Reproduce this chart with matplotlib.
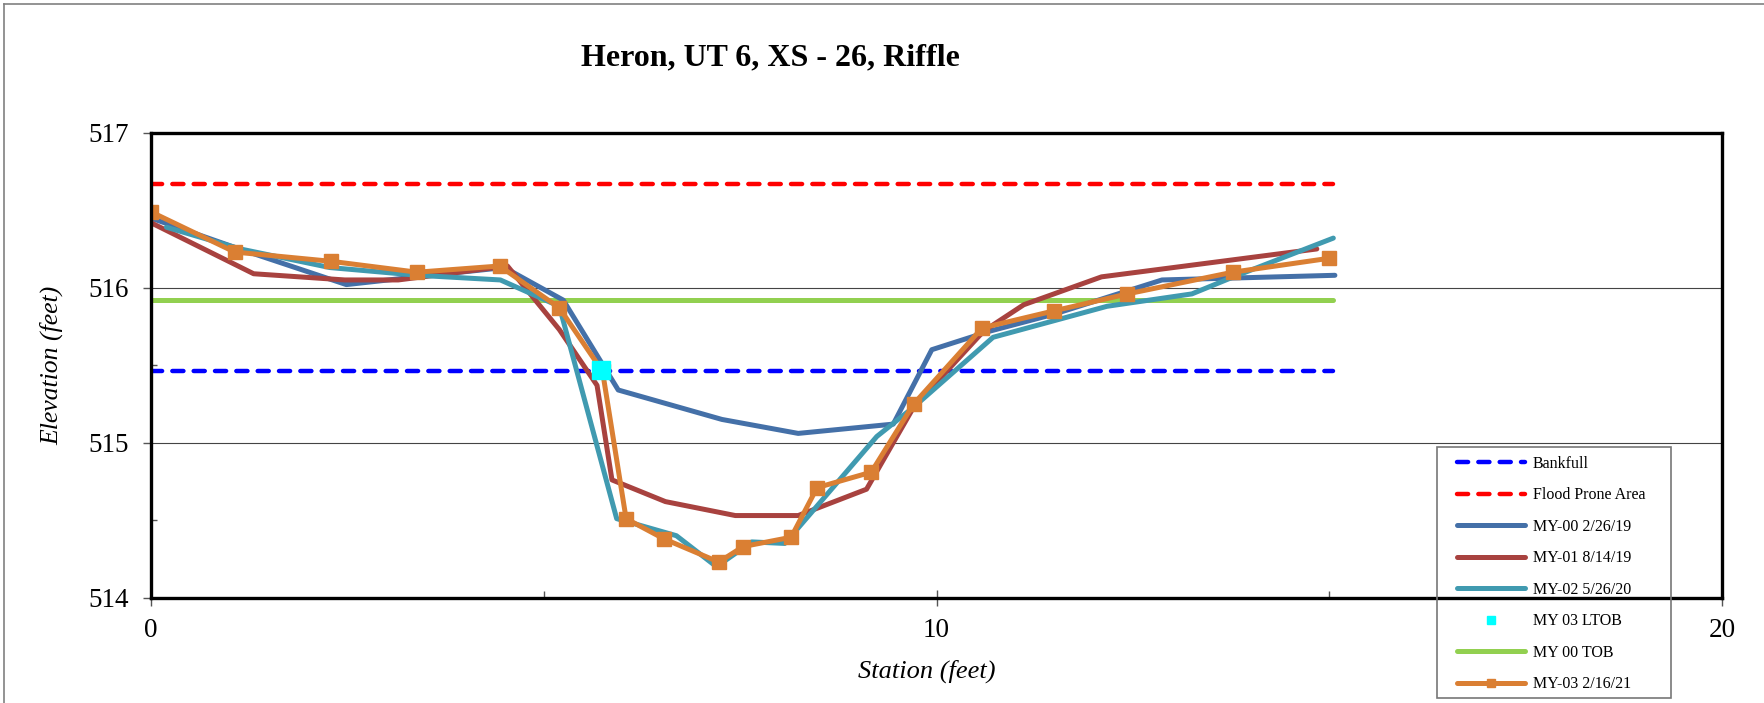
import matplotlib
matplotlib.use("Agg")
import matplotlib.pyplot as plt
from matplotlib.lines import Line2D
from matplotlib.patches import Rectangle
from matplotlib.ticker import MultipleLocator

plt.rcParams['font.family'] = ['Liberation Serif', 'DejaVu Serif']

# horizontal reference lines
ref_x = [0, 15.05]
bankfull_y = [515.46, 515.46]
flood_y = [516.67, 516.67]
tob_y = [515.92, 515.92]

# survey cross sections
my00_x = [0, 1.07, 2.49, 3.38, 4.50, 5.25, 5.95, 7.27, 8.24, 9.45, 9.94, 10.68, 11.50, 12.87, 15.07]
my00_y = [516.45, 516.26, 516.02, 516.07, 516.13, 515.92, 515.34, 515.15, 515.06, 515.12, 515.60, 515.72, 515.83, 516.05, 516.08]

my01_x = [0, 1.31, 2.47, 3.15, 4.54, 5.20, 5.68, 5.87, 6.55, 7.44, 8.24, 9.11, 9.71, 10.60, 11.11, 12.10, 14.84]
my01_y = [516.42, 516.09, 516.05, 516.05, 516.14, 515.73, 515.37, 514.76, 514.62, 514.53, 514.53, 514.70, 515.23, 515.72, 515.89, 516.07, 516.25]

my02_x = [0.2, 1.14, 2.28, 3.40, 4.45, 5.20, 5.93, 6.69, 7.20, 7.65, 8.07, 9.24, 9.71, 10.72, 12.17, 13.25, 13.78, 15.05]
my02_y = [516.39, 516.25, 516.13, 516.08, 516.05, 515.88, 514.51, 514.40, 514.20, 514.36, 514.35, 515.04, 515.23, 515.68, 515.88, 515.96, 516.07, 516.32]

my03_x = [0, 1.07, 2.30, 3.39, 4.44, 5.20, 5.75, 6.05, 6.53, 7.23, 7.54, 8.15, 8.48, 9.17, 9.71, 10.58, 11.49, 12.43, 13.77, 15.0]
my03_y = [516.49, 516.23, 516.17, 516.10, 516.14, 515.87, 515.46, 514.51, 514.38, 514.23, 514.33, 514.39, 514.71, 514.81, 515.25, 515.74, 515.85, 515.96, 516.10, 516.19]

ltob_x = [5.73]
ltob_y = [515.47]

W, H = 1764, 703
fig = plt.figure(figsize=(W / 100, H / 100), dpi=100)
ax = fig.add_axes([150.7 / W, 1 - 597.7 / H, (1722.3 - 150.7) / W, (597.7 - 132.7) / H])

dash = (2.5, 2.3)
h_bank, = ax.plot(ref_x, bankfull_y, color='#0000ff', lw=3.2, dashes=dash,
                  dash_capstyle='round', label='Bankfull', zorder=3)
h_flood, = ax.plot(ref_x, flood_y, color='#ff0000', lw=3.2, dashes=dash,
                   dash_capstyle='round', label='Flood Prone Area', zorder=3)
h00, = ax.plot(my00_x, my00_y, color='#4470a8', lw=3.6, solid_capstyle='round',
               solid_joinstyle='round', label='MY-00 2/26/19', zorder=4)
h01, = ax.plot(my01_x, my01_y, color='#a8423f', lw=3.6, solid_capstyle='round',
               solid_joinstyle='round', label='MY-01 8/14/19', zorder=5)
h02, = ax.plot(my02_x, my02_y, color='#409ab0', lw=3.6, solid_capstyle='round',
               solid_joinstyle='round', label='MY-02 5/26/20', zorder=6)
h_tob, = ax.plot(ref_x, tob_y, color='#92d050', lw=3.6, solid_capstyle='round',
                 label='MY 00 TOB', zorder=3.5)
h03, = ax.plot(my03_x, my03_y, color='#da7f33', lw=3.6, marker='s', ms=10,
               solid_capstyle='round', solid_joinstyle='round',
               label='MY-03 2/16/21', zorder=7)
h_lt, = ax.plot(ltob_x, ltob_y, ls='none', marker='s', ms=13, color='#00ffff',
                label='MY 03 LTOB', zorder=8)

ax.set_xlim(0, 20)
ax.set_ylim(514, 517)
ax.xaxis.set_major_locator(MultipleLocator(10))
ax.xaxis.set_minor_locator(MultipleLocator(5))
ax.yaxis.set_major_locator(MultipleLocator(1))
ax.yaxis.set_minor_locator(MultipleLocator(0.5))
ax.tick_params(axis='x', which='major', direction='inout', length=11, width=1,
               color='#555555', labelsize=19.5, pad=9)
ax.tick_params(axis='x', which='minor', direction='in', length=5, width=1, color='#555555')
ax.tick_params(axis='y', which='major', direction='out', length=6, width=1,
               color='#555555', labelsize=19.5, pad=10)
ax.tick_params(axis='y', which='minor', direction='in', length=4.5, width=1, color='#555555')
for s in ax.spines.values():
    s.set_linewidth(2.4)
    s.set_zorder(10)
ax.grid(axis='y', which='major', color='#444444', lw=0.8, zorder=1)

ax.set_xlabel('Station (feet)', fontsize=19, style='italic', va='center')
ax.set_ylabel('Elevation (feet)', fontsize=18.5, style='italic', va='center')
ax.xaxis.set_label_coords(0.494, -0.159)
ax.yaxis.set_label_coords(-0.063, 0.5)

fig.text(770 / W, 1 - 58 / H, 'Heron, UT 6, XS - 26, Riffle', fontsize=23,
         fontweight='bold', ha='center', va='center')

# legend with hand drawn frame
handles = [h_bank, h_flood, h00, h01, h02, h_lt, h_tob, h03]
leg = fig.legend(handles=handles, loc='upper left',
                 bbox_to_anchor=(1452 / W, 1 - 451 / H), frameon=False,
                 fontsize=11.5, handlelength=4.3, handletextpad=0.45,
                 labelspacing=0.97, numpoints=1, borderpad=0.3, borderaxespad=0)
for lh in leg.legend_handles:
    if lh.get_marker() == 's':
        lh.set_markersize(6)
fig.patches.append(Rectangle((1437 / W, 1 - 698 / H), (1671 - 1437) / W, (698 - 447) / H,
                             transform=fig.transFigure, fill=False,
                             edgecolor='#777777', lw=1.2))

# outer border of the chart area
fig.add_artist(Line2D([4 / W, 4 / W], [0, 1 - 3.5 / H], transform=fig.transFigure,
                      color='#808080', lw=1.2))
fig.add_artist(Line2D([4 / W, 1], [1 - 3.5 / H, 1 - 3.5 / H], transform=fig.transFigure,
                      color='#808080', lw=1.2))

fig.savefig('out.png', dpi=100)
